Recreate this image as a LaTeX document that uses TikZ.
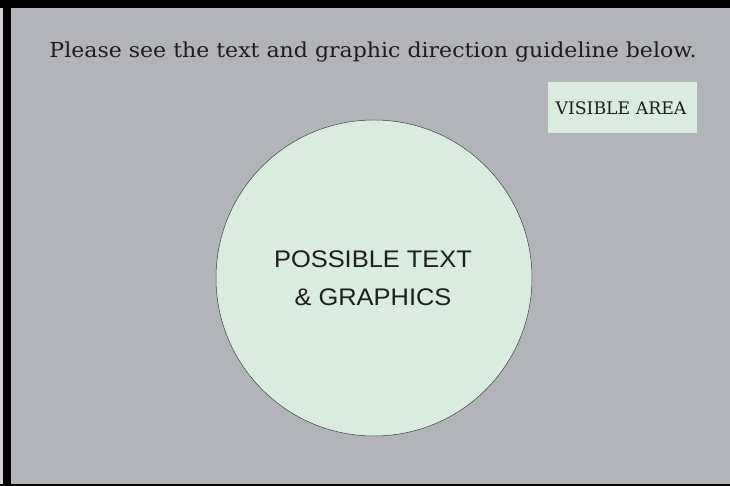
\documentclass[tikz,border=0pt]{standalone}
\usepackage{fontspec}
\setmainfont{DejaVu Serif}
\newfontfamily\arialf{Liberation Sans}
\definecolor{bggray}{RGB}{178,180,185}
\definecolor{palegreen}{RGB}{218,236,224}
\definecolor{inkc}{RGB}{30,30,30}
\begin{document}
\begin{tikzpicture}[x=1pt,y=1pt,
  titletext/.style={inner sep=0pt,anchor=base,text=inkc,xscale=1.07,font=\fontsize{20.6}{24}\selectfont},
  areabox/.style={fill=palegreen,draw=none,minimum width=149pt,minimum height=51pt,inner sep=0pt},
  areatext/.style={inner sep=0pt,anchor=base,text=inkc,font=\fontsize{17.3}{20}\selectfont},
  bigcircle/.style={circle,fill=palegreen,draw=black!75,line width=0.5pt,minimum size=316pt,inner sep=0pt},
  circtext/.style={inner sep=0pt,anchor=base,text=inkc,xscale=1.06,font=\arialf\fontsize{24}{28}\selectfont}]
\useasboundingbox (0,0) rectangle (730,486);
\fill[black] (0,0) rectangle (730,486);
\fill[bggray!60] (0,2) rectangle (2.7,478);
\fill[bggray] (11,2) rectangle (730,478);
\node[titletext] (title) at (373,428.7) {Please see the text and graphic direction guideline below.};
\node[areabox] (area) at (622.5,378.5) {};
\node[areatext] (areal) at (621,371.7) {VISIBLE AREA};
\node[bigcircle] (circ) at (374,208) {};
\node[circtext] (l1) at (373,218) {POSSIBLE TEXT};
\node[circtext] (l2) at (373,180) {\& GRAPHICS};
\end{tikzpicture}
\end{document}
